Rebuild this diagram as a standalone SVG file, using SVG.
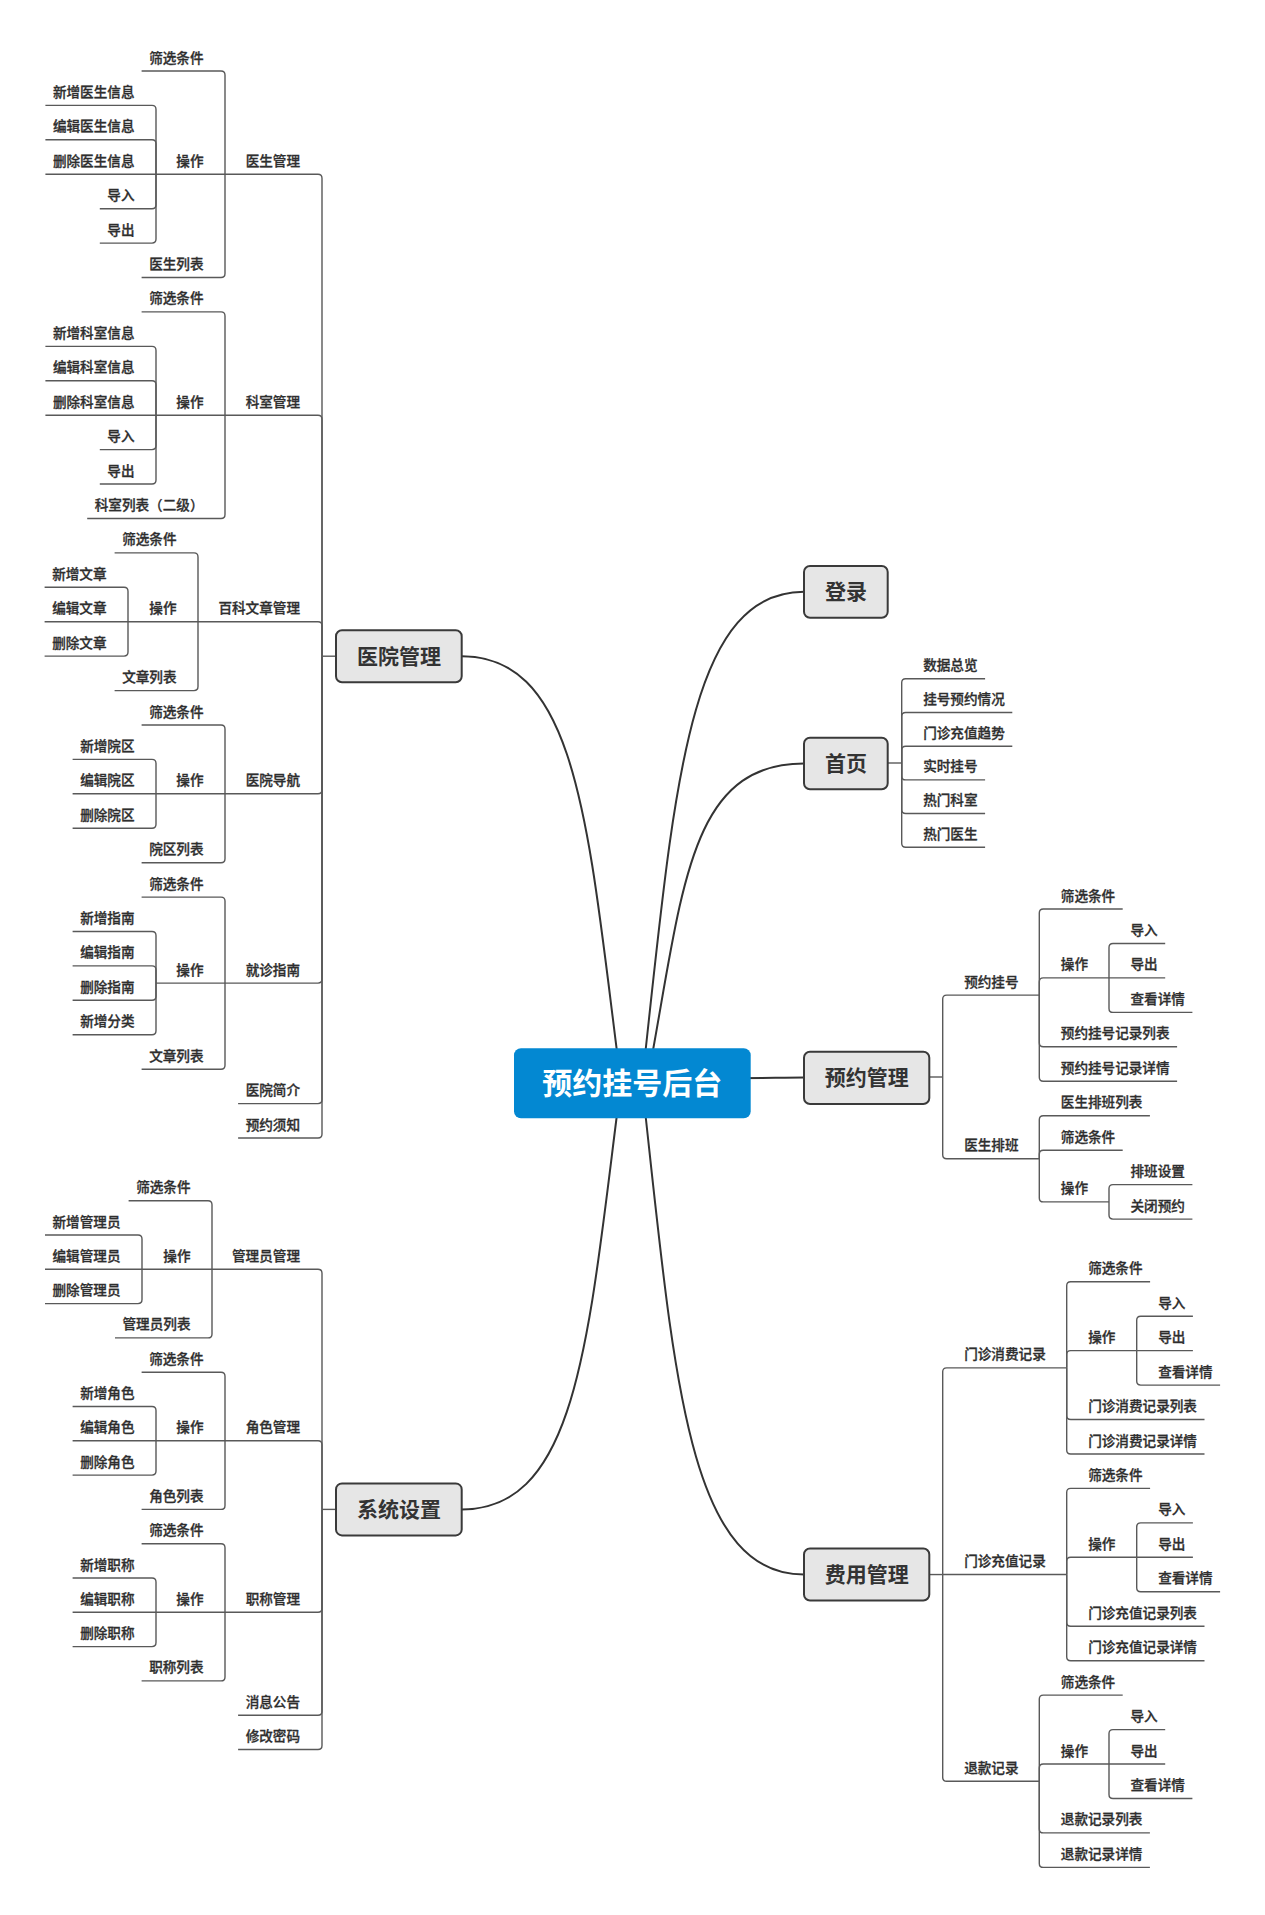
<svg xmlns="http://www.w3.org/2000/svg" width="1265" height="1915" viewBox="0 0 1265 1915">
<style>
  .c { fill: none; stroke: #595959; stroke-width: 1.4; }
  .cv { fill: none; stroke: #333333; stroke-width: 2; }
  .lb { font-family: "Noto Sans CJK SC", "Noto Sans", sans-serif; font-size: 13.6px; font-weight: 500; fill: #2e2e2e; stroke: #2e2e2e; stroke-width: 0.3; }
  .r { text-anchor: end; }
  .tp { fill: #e6e6e6; stroke: #3a3a3a; stroke-width: 2; }
  .tt { font-family: "Noto Sans CJK SC", "Noto Sans", sans-serif; font-size: 21px; font-weight: 700; fill: #333333; text-anchor: middle; }
  .rootbox { fill: #0388d2; }
  .roott { font-family: "Noto Sans CJK SC", "Noto Sans", sans-serif; font-size: 30px; font-weight: 700; fill: #ffffff; text-anchor: middle; }
</style>
<rect width="1265" height="1915" fill="#ffffff"/>

<g id="connectors">
  <!-- root curves -->
  <path class="cv" d="M461.7,656.2 C580,656.2 588.5,833 621,1083"/>
  <path class="cv" d="M461.7,1509.4 C580,1509.4 588.5,1333 621,1083"/>
  <path class="cv" d="M804,591.8 C686,591.8 674,794 642,1083"/>
  <path class="cv" d="M804,763.5 C686,763.5 682.7,895 647,1083"/>
  <path class="cv" d="M804,1574.5 C686,1574.5 674,1372 642,1083"/>
  <path class="cv" d="M700,1078.3 C760,1078.3 780,1077.5 804,1077.5"/>

  <!-- 医院管理 -->
  <path class="c" d="M336,656.2 H322"/>
  <path class="c" d="M322,656.2 V178.3 Q322,174.3 318,174.3 H225"/>
  <path class="c" d="M322,656.2 V419.2 Q322,415.2 318,415.2 H225"/>
  <path class="c" d="M322,656.2 V625.7 Q322,621.7 318,621.7 H198"/>
  <path class="c" d="M322,656.2 V789.8 Q322,793.8 318,793.8 H225"/>
  <path class="c" d="M322,656.2 V979.1 Q322,983.1 318,983.1 H225"/>
  <path class="c" d="M322,656.2 V1099.6 Q322,1103.6 318,1103.6 H238.1"/>
  <path class="c" d="M322,656.2 V1134 Q322,1138 318,1138 H238.1"/>

  <!-- 医生管理 -->
  <path class="c" d="M225,174.3 V75 Q225,71 221,71 H141.6"/>
  <path class="c" d="M225,174.3 H156"/>
  <path class="c" d="M225,174.3 V273.5 Q225,277.5 221,277.5 H141.6"/>
  <path class="c" d="M156,174.3 V109.4 Q156,105.4 152,105.4 H45.4"/>
  <path class="c" d="M156,174.3 V143.8 Q156,139.8 152,139.8 H45.4"/>
  <path class="c" d="M156,174.3 H45.4"/>
  <path class="c" d="M156,174.3 V204.7 Q156,208.7 152,208.7 H99.8"/>
  <path class="c" d="M156,174.3 V239.1 Q156,243.1 152,243.1 H99.8"/>

  <!-- 科室管理 -->
  <path class="c" d="M225,415.2 V315.9 Q225,311.9 221,311.9 H141.6"/>
  <path class="c" d="M225,415.2 H156"/>
  <path class="c" d="M225,415.2 V514.5 Q225,518.5 221,518.5 H87.2"/>
  <path class="c" d="M156,415.2 V350.4 Q156,346.4 152,346.4 H45.4"/>
  <path class="c" d="M156,415.2 V384.8 Q156,380.8 152,380.8 H45.4"/>
  <path class="c" d="M156,415.2 H45.4"/>
  <path class="c" d="M156,415.2 V445.6 Q156,449.6 152,449.6 H99.8"/>
  <path class="c" d="M156,415.2 V480 Q156,484 152,484 H99.8"/>

  <!-- 百科文章管理 -->
  <path class="c" d="M198,621.7 V556.9 Q198,552.9 194,552.9 H114.6"/>
  <path class="c" d="M198,621.7 H128"/>
  <path class="c" d="M198,621.7 V686.6 Q198,690.6 194,690.6 H114.6"/>
  <path class="c" d="M128,621.7 V591.3 Q128,587.3 124,587.3 H44.6"/>
  <path class="c" d="M128,621.7 H44.6"/>
  <path class="c" d="M128,621.7 V652.1 Q128,656.1 124,656.1 H44.6"/>

  <!-- 医院导航 -->
  <path class="c" d="M225,793.8 V729 Q225,725 221,725 H141.6"/>
  <path class="c" d="M225,793.8 H156"/>
  <path class="c" d="M225,793.8 V858.7 Q225,862.7 221,862.7 H141.6"/>
  <path class="c" d="M156,793.8 V763.4 Q156,759.4 152,759.4 H72.6"/>
  <path class="c" d="M156,793.8 H72.6"/>
  <path class="c" d="M156,793.8 V824.2 Q156,828.2 152,828.2 H72.6"/>

  <!-- 就诊指南 -->
  <path class="c" d="M225,983.1 V901.1 Q225,897.1 221,897.1 H141.6"/>
  <path class="c" d="M225,983.1 H156"/>
  <path class="c" d="M225,983.1 V1065.2 Q225,1069.2 221,1069.2 H141.6"/>
  <path class="c" d="M156,983.1 V935.5 Q156,931.5 152,931.5 H72.6"/>
  <path class="c" d="M156,983.1 V969.9 Q156,965.9 152,965.9 H72.6"/>
  <path class="c" d="M156,983.1 V996.3 Q156,1000.3 152,1000.3 H72.6"/>
  <path class="c" d="M156,983.1 V1030.8 Q156,1034.8 152,1034.8 H72.6"/>

  <!-- 系统设置 -->
  <path class="c" d="M336,1509.4 H322"/>
  <path class="c" d="M322,1509.4 V1273.3 Q322,1269.3 318,1269.3 H212"/>
  <path class="c" d="M322,1509.4 V1444.8 Q322,1440.8 318,1440.8 H225"/>
  <path class="c" d="M322,1509.4 V1608.3 Q322,1612.3 318,1612.3 H225"/>
  <path class="c" d="M322,1509.4 V1711.2 Q322,1715.2 318,1715.2 H238.1"/>
  <path class="c" d="M322,1509.4 V1745.5 Q322,1749.5 318,1749.5 H238.1"/>

  <!-- 管理员管理 -->
  <path class="c" d="M212,1269.3 V1204.7 Q212,1200.7 208,1200.7 H128.6"/>
  <path class="c" d="M212,1269.3 H142"/>
  <path class="c" d="M212,1269.3 V1333.9 Q212,1337.9 208,1337.9 H115"/>
  <path class="c" d="M142,1269.3 V1239 Q142,1235 138,1235 H45"/>
  <path class="c" d="M142,1269.3 H45"/>
  <path class="c" d="M142,1269.3 V1299.6 Q142,1303.6 138,1303.6 H45"/>

  <!-- 角色管理 -->
  <path class="c" d="M225,1440.8 V1376.2 Q225,1372.2 221,1372.2 H141.6"/>
  <path class="c" d="M225,1440.8 H156"/>
  <path class="c" d="M225,1440.8 V1505.4 Q225,1509.4 221,1509.4 H141.6"/>
  <path class="c" d="M156,1440.8 V1410.5 Q156,1406.5 152,1406.5 H72.6"/>
  <path class="c" d="M156,1440.8 H72.6"/>
  <path class="c" d="M156,1440.8 V1471.1 Q156,1475.1 152,1475.1 H72.6"/>

  <!-- 职称管理 -->
  <path class="c" d="M225,1612.3 V1547.7 Q225,1543.7 221,1543.7 H141.6"/>
  <path class="c" d="M225,1612.3 H156"/>
  <path class="c" d="M225,1612.3 V1676.9 Q225,1680.9 221,1680.9 H141.6"/>
  <path class="c" d="M156,1612.3 V1582 Q156,1578 152,1578 H72.6"/>
  <path class="c" d="M156,1612.3 H72.6"/>
  <path class="c" d="M156,1612.3 V1642.6 Q156,1646.6 152,1646.6 H72.6"/>

  <!-- 首页 -->
  <path class="c" d="M887.7,763 H901.7"/>
  <path class="c" d="M901.7,763 V682.8 Q901.7,678.8 905.7,678.8 H985.1"/>
  <path class="c" d="M901.7,763 V716.5 Q901.7,712.5 905.7,712.5 H1012.3"/>
  <path class="c" d="M901.7,763 V750.2 Q901.7,746.2 905.7,746.2 H1012.3"/>
  <path class="c" d="M901.7,763 V775.9 Q901.7,779.9 905.7,779.9 H985.1"/>
  <path class="c" d="M901.7,763 V809.5 Q901.7,813.5 905.7,813.5 H985.1"/>
  <path class="c" d="M901.7,763 V843.2 Q901.7,847.2 905.7,847.2 H985.1"/>

  <!-- 预约管理 -->
  <path class="c" d="M929.3,1077 H942.7"/>
  <path class="c" d="M942.7,1077 V999.1 Q942.7,995.1 946.7,995.1 H1039.3"/>
  <path class="c" d="M942.7,1077 V1154.8 Q942.7,1158.8 946.7,1158.8 H1039.3"/>
  <path class="c" d="M1039.3,995.1 V913 Q1039.3,909 1043.3,909 H1122.7"/>
  <path class="c" d="M1039.3,995.1 V981.9 Q1039.3,977.9 1043.3,977.9 H1109"/>
  <path class="c" d="M1039.3,995.1 V1042.8 Q1039.3,1046.8 1043.3,1046.8 H1177.1"/>
  <path class="c" d="M1039.3,995.1 V1077.3 Q1039.3,1081.3 1043.3,1081.3 H1177.1"/>
  <path class="c" d="M1109,977.9 V947.5 Q1109,943.5 1113,943.5 H1165.2"/>
  <path class="c" d="M1109,977.9 H1165.2"/>
  <path class="c" d="M1109,977.9 V1008.4 Q1109,1012.4 1113,1012.4 H1192.4"/>
  <path class="c" d="M1039.3,1158.8 V1119.7 Q1039.3,1115.7 1043.3,1115.7 H1149.9"/>
  <path class="c" d="M1039.3,1158.8 V1154.2 Q1039.3,1150.2 1043.3,1150.2 H1122.7"/>
  <path class="c" d="M1039.3,1158.8 V1197.9 Q1039.3,1201.9 1043.3,1201.9 H1109"/>
  <path class="c" d="M1109,1201.9 V1188.6 Q1109,1184.6 1113,1184.6 H1192.4"/>
  <path class="c" d="M1109,1201.9 V1215.1 Q1109,1219.1 1113,1219.1 H1192.4"/>

  <!-- 费用管理 -->
  <path class="c" d="M929.3,1574.55 H942.7"/>
  <path class="c" d="M942.7,1574.55 V1371.85 Q942.7,1367.85 946.7,1367.85 H1066.7"/>
  <path class="c" d="M942.7,1574.55 H1066.7"/>
  <path class="c" d="M942.7,1574.55 V1777.25 Q942.7,1781.25 946.7,1781.25 H1039.3"/>
  <path class="c" d="M1066.7,1367.85 V1285.7 Q1066.7,1281.7 1070.7,1281.7 H1150.1"/>
  <path class="c" d="M1066.7,1367.85 V1354.6 Q1066.7,1350.6 1070.7,1350.6 H1136.7"/>
  <path class="c" d="M1066.7,1367.85 V1415.5 Q1066.7,1419.5 1070.7,1419.5 H1204.5"/>
  <path class="c" d="M1066.7,1367.85 V1450 Q1066.7,1454 1070.7,1454 H1204.5"/>
  <path class="c" d="M1136.7,1350.6 V1320.2 Q1136.7,1316.2 1140.7,1316.2 H1192.9"/>
  <path class="c" d="M1136.7,1350.6 H1192.9"/>
  <path class="c" d="M1136.7,1350.6 V1381.1 Q1136.7,1385.1 1140.7,1385.1 H1220.1"/>
  <path class="c" d="M1066.7,1574.55 V1492.4 Q1066.7,1488.4 1070.7,1488.4 H1150.1"/>
  <path class="c" d="M1066.7,1574.55 V1561.3 Q1066.7,1557.3 1070.7,1557.3 H1136.7"/>
  <path class="c" d="M1066.7,1574.55 V1622.2 Q1066.7,1626.2 1070.7,1626.2 H1204.5"/>
  <path class="c" d="M1066.7,1574.55 V1656.7 Q1066.7,1660.7 1070.7,1660.7 H1204.5"/>
  <path class="c" d="M1136.7,1557.3 V1526.9 Q1136.7,1522.9 1140.7,1522.9 H1192.9"/>
  <path class="c" d="M1136.7,1557.3 H1192.9"/>
  <path class="c" d="M1136.7,1557.3 V1587.8 Q1136.7,1591.8 1140.7,1591.8 H1220.1"/>
  <path class="c" d="M1039.3,1781.25 V1699.1 Q1039.3,1695.1 1043.3,1695.1 H1122.7"/>
  <path class="c" d="M1039.3,1781.25 V1768 Q1039.3,1764 1043.3,1764 H1109"/>
  <path class="c" d="M1039.3,1781.25 V1828.9 Q1039.3,1832.9 1043.3,1832.9 H1149.9"/>
  <path class="c" d="M1039.3,1781.25 V1863.4 Q1039.3,1867.4 1043.3,1867.4 H1149.9"/>
  <path class="c" d="M1109,1764 V1733.6 Q1109,1729.6 1113,1729.6 H1165.2"/>
  <path class="c" d="M1109,1764 H1165.2"/>
  <path class="c" d="M1109,1764 V1794.5 Q1109,1798.5 1113,1798.5 H1192.4"/>
</g>

<!-- central topic -->
<g id="root">
  <rect class="rootbox" x="514" y="1048.3" width="236.7" height="70" rx="7"/>
  <text class="roott" x="632.3" y="1094">预约挂号后台</text>
</g>

<!-- main topics -->
<g id="n-yiyuan"><rect class="tp" x="336" y="630.2" width="125.7" height="52" rx="6"/><text class="tt" x="398.9" y="663.7">医院管理</text></g>
<g id="n-xitong"><rect class="tp" x="336" y="1483.4" width="125.7" height="52" rx="6"/><text class="tt" x="398.9" y="1516.9">系统设置</text></g>
<g id="n-denglu"><rect class="tp" x="804" y="566" width="83.7" height="51.7" rx="6"/><text class="tt" x="845.9" y="599.3">登录</text></g>
<g id="n-shouye"><rect class="tp" x="804" y="737.7" width="83.7" height="51.6" rx="6"/><text class="tt" x="845.9" y="771">首页</text></g>
<g id="n-yuyue"><rect class="tp" x="804" y="1051.7" width="125.3" height="52.3" rx="6"/><text class="tt" x="866.7" y="1085.4">预约管理</text></g>
<g id="n-feiyong"><rect class="tp" x="804" y="1548.5" width="125.3" height="52" rx="6"/><text class="tt" x="866.7" y="1582">费用管理</text></g>

<!-- 医院管理 branch -->
<g id="n-ysgl"><text class="lb r" x="300" y="165.8">医生管理</text></g>
<g id="n-ysgl-sx"><text class="lb r" x="203.5" y="62.5">筛选条件</text></g>
<g id="n-ysgl-cz"><text class="lb r" x="203.5" y="165.8">操作</text></g>
<g id="n-ysgl-xz"><text class="lb r" x="134.5" y="96.9">新增医生信息</text></g>
<g id="n-ysgl-bj"><text class="lb r" x="134.5" y="131.3">编辑医生信息</text></g>
<g id="n-ysgl-sc"><text class="lb r" x="134.5" y="165.8">删除医生信息</text></g>
<g id="n-ysgl-dr"><text class="lb r" x="134.5" y="200.2">导入</text></g>
<g id="n-ysgl-dc"><text class="lb r" x="134.5" y="234.6">导出</text></g>
<g id="n-ysgl-lb"><text class="lb r" x="203.5" y="269">医生列表</text></g>

<g id="n-ksgl"><text class="lb r" x="300" y="406.7">科室管理</text></g>
<g id="n-ksgl-sx"><text class="lb r" x="203.5" y="303.4">筛选条件</text></g>
<g id="n-ksgl-cz"><text class="lb r" x="203.5" y="406.7">操作</text></g>
<g id="n-ksgl-xz"><text class="lb r" x="134.5" y="337.9">新增科室信息</text></g>
<g id="n-ksgl-bj"><text class="lb r" x="134.5" y="372.3">编辑科室信息</text></g>
<g id="n-ksgl-sc"><text class="lb r" x="134.5" y="406.7">删除科室信息</text></g>
<g id="n-ksgl-dr"><text class="lb r" x="134.5" y="441.1">导入</text></g>
<g id="n-ksgl-dc"><text class="lb r" x="134.5" y="475.5">导出</text></g>
<g id="n-ksgl-lb"><text class="lb r" x="203.5" y="510">科室列表（二级）</text></g>

<g id="n-bkwz"><text class="lb r" x="300" y="613.2">百科文章管理</text></g>
<g id="n-bkwz-sx"><text class="lb r" x="176.5" y="544.4">筛选条件</text></g>
<g id="n-bkwz-cz"><text class="lb r" x="176.5" y="613.2">操作</text></g>
<g id="n-bkwz-xz"><text class="lb r" x="106.5" y="578.8">新增文章</text></g>
<g id="n-bkwz-bj"><text class="lb r" x="106.5" y="613.2">编辑文章</text></g>
<g id="n-bkwz-sc"><text class="lb r" x="106.5" y="647.6">删除文章</text></g>
<g id="n-bkwz-lb"><text class="lb r" x="176.5" y="682.1">文章列表</text></g>

<g id="n-yydh"><text class="lb r" x="300" y="785.3">医院导航</text></g>
<g id="n-yydh-sx"><text class="lb r" x="203.5" y="716.5">筛选条件</text></g>
<g id="n-yydh-cz"><text class="lb r" x="203.5" y="785.3">操作</text></g>
<g id="n-yydh-xz"><text class="lb r" x="134.5" y="750.9">新增院区</text></g>
<g id="n-yydh-bj"><text class="lb r" x="134.5" y="785.3">编辑院区</text></g>
<g id="n-yydh-sc"><text class="lb r" x="134.5" y="819.7">删除院区</text></g>
<g id="n-yydh-lb"><text class="lb r" x="203.5" y="854.2">院区列表</text></g>

<g id="n-jzzn"><text class="lb r" x="300" y="974.6">就诊指南</text></g>
<g id="n-jzzn-sx"><text class="lb r" x="203.5" y="888.6">筛选条件</text></g>
<g id="n-jzzn-cz"><text class="lb r" x="203.5" y="974.6">操作</text></g>
<g id="n-jzzn-xz"><text class="lb r" x="134.5" y="923">新增指南</text></g>
<g id="n-jzzn-bj"><text class="lb r" x="134.5" y="957.4">编辑指南</text></g>
<g id="n-jzzn-sc"><text class="lb r" x="134.5" y="991.8">删除指南</text></g>
<g id="n-jzzn-fl"><text class="lb r" x="134.5" y="1026.3">新增分类</text></g>
<g id="n-jzzn-lb"><text class="lb r" x="203.5" y="1060.7">文章列表</text></g>

<g id="n-yyjj"><text class="lb r" x="300" y="1095.1">医院简介</text></g>
<g id="n-yyxz"><text class="lb r" x="300" y="1129.5">预约须知</text></g>

<!-- 系统设置 branch -->
<g id="n-glygl"><text class="lb r" x="300" y="1260.8">管理员管理</text></g>
<g id="n-glygl-sx"><text class="lb r" x="190.5" y="1192.2">筛选条件</text></g>
<g id="n-glygl-cz"><text class="lb r" x="190.5" y="1260.8">操作</text></g>
<g id="n-glygl-xz"><text class="lb r" x="120.5" y="1226.5">新增管理员</text></g>
<g id="n-glygl-bj"><text class="lb r" x="120.5" y="1260.8">编辑管理员</text></g>
<g id="n-glygl-sc"><text class="lb r" x="120.5" y="1295.1">删除管理员</text></g>
<g id="n-glygl-lb"><text class="lb r" x="190.5" y="1329.4">管理员列表</text></g>

<g id="n-jsgl"><text class="lb r" x="300" y="1432.3">角色管理</text></g>
<g id="n-jsgl-sx"><text class="lb r" x="203.5" y="1363.7">筛选条件</text></g>
<g id="n-jsgl-cz"><text class="lb r" x="203.5" y="1432.3">操作</text></g>
<g id="n-jsgl-xz"><text class="lb r" x="134.5" y="1398">新增角色</text></g>
<g id="n-jsgl-bj"><text class="lb r" x="134.5" y="1432.3">编辑角色</text></g>
<g id="n-jsgl-sc"><text class="lb r" x="134.5" y="1466.6">删除角色</text></g>
<g id="n-jsgl-lb"><text class="lb r" x="203.5" y="1500.9">角色列表</text></g>

<g id="n-zcgl"><text class="lb r" x="300" y="1603.8">职称管理</text></g>
<g id="n-zcgl-sx"><text class="lb r" x="203.5" y="1535.2">筛选条件</text></g>
<g id="n-zcgl-cz"><text class="lb r" x="203.5" y="1603.8">操作</text></g>
<g id="n-zcgl-xz"><text class="lb r" x="134.5" y="1569.5">新增职称</text></g>
<g id="n-zcgl-bj"><text class="lb r" x="134.5" y="1603.8">编辑职称</text></g>
<g id="n-zcgl-sc"><text class="lb r" x="134.5" y="1638.1">删除职称</text></g>
<g id="n-zcgl-lb"><text class="lb r" x="203.5" y="1672.4">职称列表</text></g>

<g id="n-xxgg"><text class="lb r" x="300" y="1706.7">消息公告</text></g>
<g id="n-xgmm"><text class="lb r" x="300" y="1741">修改密码</text></g>

<!-- 首页 branch -->
<g id="n-sjzl"><text class="lb" x="923.2" y="670.3">数据总览</text></g>
<g id="n-ghyy"><text class="lb" x="923.2" y="704">挂号预约情况</text></g>
<g id="n-mzcz"><text class="lb" x="923.2" y="737.7">门诊充值趋势</text></g>
<g id="n-ssgh"><text class="lb" x="923.2" y="771.4">实时挂号</text></g>
<g id="n-rmks"><text class="lb" x="923.2" y="805">热门科室</text></g>
<g id="n-rmys"><text class="lb" x="923.2" y="838.7">热门医生</text></g>

<!-- 预约管理 branch -->
<g id="n-yygh"><text class="lb" x="964.2" y="986.6">预约挂号</text></g>
<g id="n-yygh-sx"><text class="lb" x="1060.8" y="900.5">筛选条件</text></g>
<g id="n-yygh-cz"><text class="lb" x="1060.8" y="969.4">操作</text></g>
<g id="n-yygh-dr"><text class="lb" x="1130.5" y="935">导入</text></g>
<g id="n-yygh-dc"><text class="lb" x="1130.5" y="969.4">导出</text></g>
<g id="n-yygh-ck"><text class="lb" x="1130.5" y="1003.9">查看详情</text></g>
<g id="n-yygh-lb"><text class="lb" x="1060.8" y="1038.3">预约挂号记录列表</text></g>
<g id="n-yygh-xq"><text class="lb" x="1060.8" y="1072.8">预约挂号记录详情</text></g>

<g id="n-yspb"><text class="lb" x="964.2" y="1150.3">医生排班</text></g>
<g id="n-yspb-lb"><text class="lb" x="1060.8" y="1107.2">医生排班列表</text></g>
<g id="n-yspb-sx"><text class="lb" x="1060.8" y="1141.7">筛选条件</text></g>
<g id="n-yspb-cz"><text class="lb" x="1060.8" y="1193.4">操作</text></g>
<g id="n-yspb-sz"><text class="lb" x="1130.5" y="1176.1">排班设置</text></g>
<g id="n-yspb-gb"><text class="lb" x="1130.5" y="1210.6">关闭预约</text></g>

<!-- 费用管理 branch -->
<g id="n-mzxf"><text class="lb" x="964.2" y="1359.35">门诊消费记录</text></g>
<g id="n-mzxf-sx"><text class="lb" x="1088.2" y="1273.2">筛选条件</text></g>
<g id="n-mzxf-cz"><text class="lb" x="1088.2" y="1342.1">操作</text></g>
<g id="n-mzxf-dr"><text class="lb" x="1158.2" y="1307.7">导入</text></g>
<g id="n-mzxf-dc"><text class="lb" x="1158.2" y="1342.1">导出</text></g>
<g id="n-mzxf-ck"><text class="lb" x="1158.2" y="1376.6">查看详情</text></g>
<g id="n-mzxf-lb"><text class="lb" x="1088.2" y="1411">门诊消费记录列表</text></g>
<g id="n-mzxf-xq"><text class="lb" x="1088.2" y="1445.5">门诊消费记录详情</text></g>

<g id="n-mzcz2"><text class="lb" x="964.2" y="1566.05">门诊充值记录</text></g>
<g id="n-mzcz2-sx"><text class="lb" x="1088.2" y="1479.9">筛选条件</text></g>
<g id="n-mzcz2-cz"><text class="lb" x="1088.2" y="1548.8">操作</text></g>
<g id="n-mzcz2-dr"><text class="lb" x="1158.2" y="1514.4">导入</text></g>
<g id="n-mzcz2-dc"><text class="lb" x="1158.2" y="1548.8">导出</text></g>
<g id="n-mzcz2-ck"><text class="lb" x="1158.2" y="1583.3">查看详情</text></g>
<g id="n-mzcz2-lb"><text class="lb" x="1088.2" y="1617.7">门诊充值记录列表</text></g>
<g id="n-mzcz2-xq"><text class="lb" x="1088.2" y="1652.2">门诊充值记录详情</text></g>

<g id="n-tkjl"><text class="lb" x="964.2" y="1772.75">退款记录</text></g>
<g id="n-tkjl-sx"><text class="lb" x="1060.8" y="1686.6">筛选条件</text></g>
<g id="n-tkjl-cz"><text class="lb" x="1060.8" y="1755.5">操作</text></g>
<g id="n-tkjl-dr"><text class="lb" x="1130.5" y="1721.1">导入</text></g>
<g id="n-tkjl-dc"><text class="lb" x="1130.5" y="1755.5">导出</text></g>
<g id="n-tkjl-ck"><text class="lb" x="1130.5" y="1790">查看详情</text></g>
<g id="n-tkjl-lb"><text class="lb" x="1060.8" y="1824.4">退款记录列表</text></g>
<g id="n-tkjl-xq"><text class="lb" x="1060.8" y="1858.9">退款记录详情</text></g>
</svg>
